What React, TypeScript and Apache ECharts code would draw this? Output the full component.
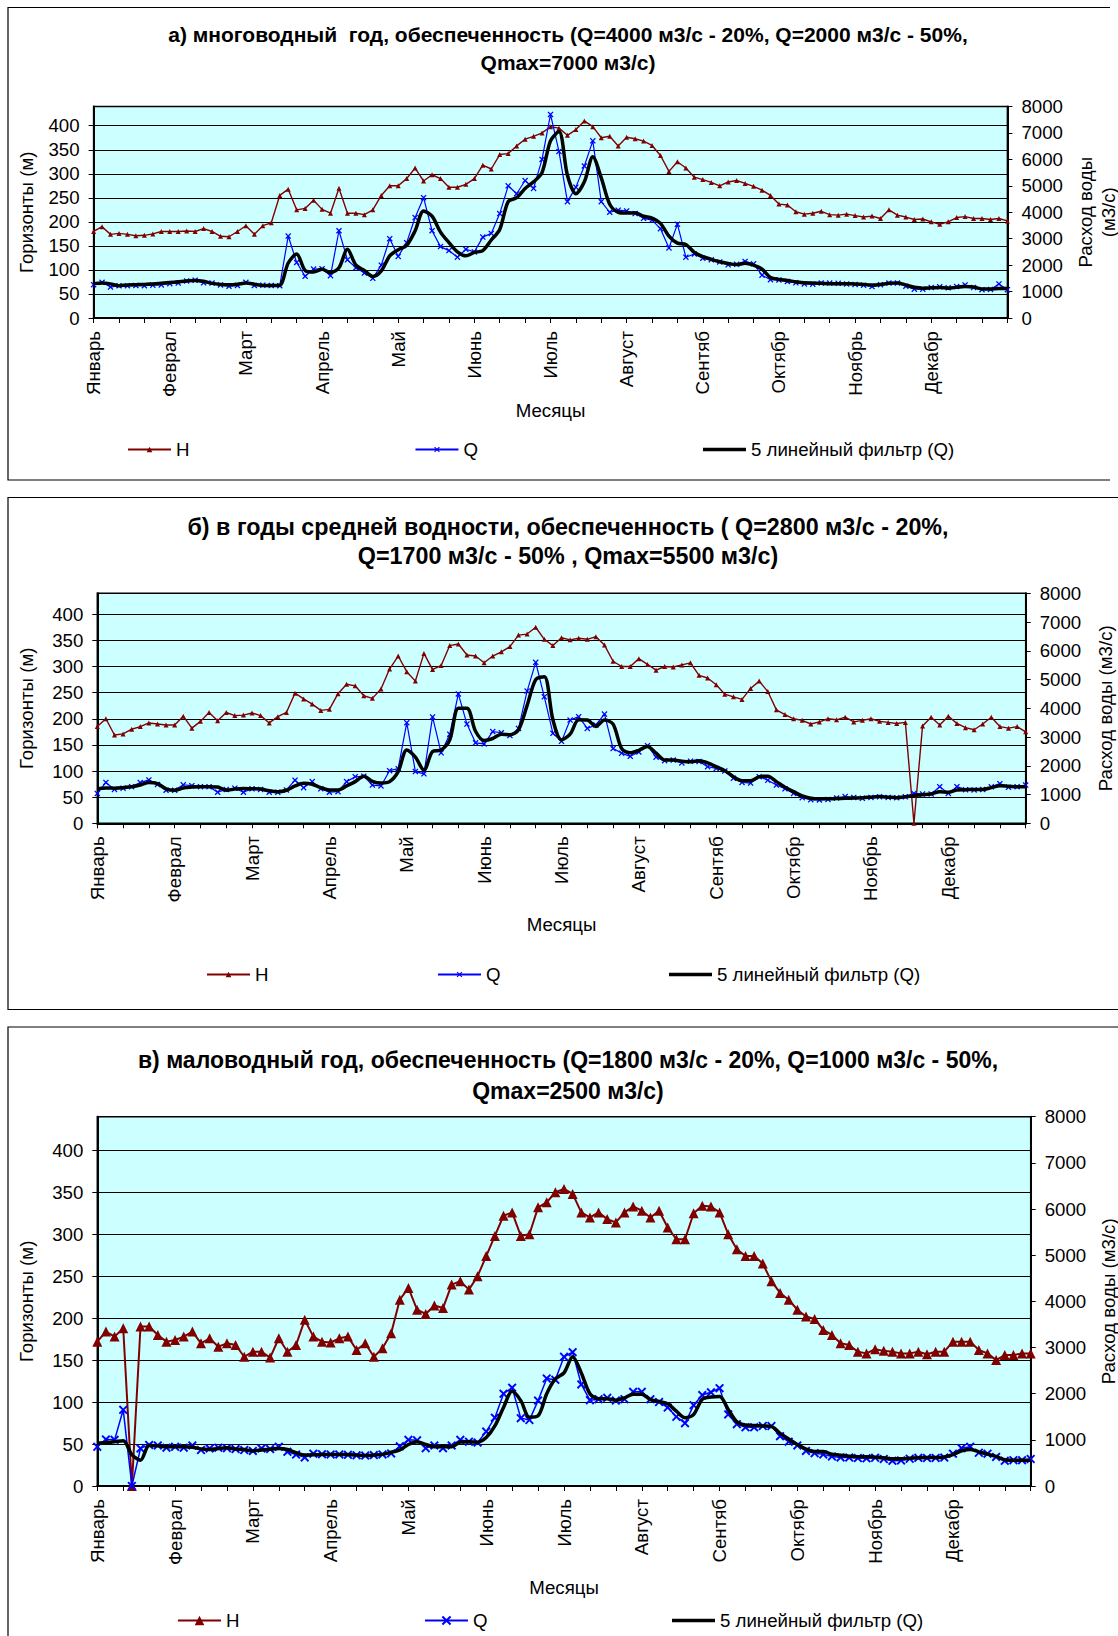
import React, { useEffect, useRef } from "react";
import * as echarts from "echarts";

// ---------- tick labels / categories ----------
const MONTHS = ["Январь", "Феврал", "Март", "Апрель", "Май", "Июнь", "Июль", "Август", "Сентяб", "Октябр", "Ноябрь", "Декабр"];
const SAMPLES_PER_MONTH = 9;
const CATEGORIES = Array.from({ length: 109 }, (_, i) => String(i));

const LEGEND_LABELS: Record<string, string> = { H: "H", Q: "Q", F: "5 линейный фильтр (Q)" };

const TITLE_A = ["а) многоводный  год, обеспеченность (Q=4000 м3/с - 20%, Q=2000 м3/с - 50%,", "Qmax=7000 м3/с)"];
const TITLE_B = ["б) в годы средней водности, обеспеченность ( Q=2800 м3/с - 20%,", "Q=1700 м3/с - 50% , Qmax=5500 м3/с)"];
const TITLE_C = ["в) маловодный год, обеспеченность (Q=1800 м3/с - 20%, Q=1000 м3/с - 50%,", "Qmax=2500 м3/с)"];

// ---------- panel a: high-water year ----------
const H_A = [
  180, 190, 174, 176, 174, 171, 172, 175, 180, 180,
  180, 181, 180, 186, 180, 170, 169, 180, 192, 174,
  192, 198, 255, 268, 225, 228, 245, 226, 218, 270,
  218, 218, 215, 225, 255, 275, 275, 290, 312, 285,
  298, 290, 272, 272, 278, 290, 318, 310, 340, 342,
  358, 372, 378, 385, 398, 395, 380, 392, 410, 398,
  375, 378, 358, 376, 373, 368, 359, 338, 305, 325,
  312, 293, 288, 282, 275, 283, 286, 280, 274, 266,
  255, 237, 235, 221, 216, 218, 222, 215, 214, 216,
  213, 210, 212, 207, 225, 214, 210, 205, 206, 200,
  195, 200, 209, 211, 207, 207, 205, 207, 202,
];
const Q_A = [
  1260, 1350, 1170, 1220, 1220, 1230, 1220, 1240, 1250, 1300,
  1320, 1400, 1430, 1330, 1320, 1250, 1200, 1230, 1350, 1230,
  1240, 1230, 1220, 3100, 2100, 1580, 1850, 1860, 1600, 3300,
  2200, 1900, 1700, 1500, 2000, 3000, 2330, 2850, 3800, 4550,
  3300, 2700, 2550, 2300, 2600, 2500, 3060, 3200, 3950, 5000,
  4700, 5200, 4900, 6000, 7700, 6300, 4400, 4950, 5750, 6700,
  4400, 4000, 4080, 4050, 3950, 3770, 3700, 3380, 2650, 3550,
  2300, 2420, 2260, 2200, 2120, 2010, 2030, 2140, 2050, 1620,
  1450, 1440, 1380, 1330, 1290, 1280, 1320, 1320, 1310, 1290,
  1270, 1240, 1190, 1260, 1320, 1320, 1200, 1090, 1090, 1150,
  1180, 1140, 1190, 1250, 1150, 1070, 1080, 1290, 1070,
];
const F_A = [
  1300, 1320, 1290, 1220, 1250, 1260, 1270, 1290, 1310, 1340,
  1370, 1400, 1420, 1390, 1310, 1270, 1260, 1280, 1320, 1280,
  1230, 1230, 1240, 2080, 2420, 1800, 1740, 1840, 1720, 1900,
  2600, 2000, 1800, 1570, 1780, 2350, 2580, 2750, 3300, 4050,
  3850, 3250, 2850, 2500, 2350, 2480, 2550, 2950, 3350, 4400,
  4550, 4900, 5150, 5500, 6700, 7050, 5400, 4700, 5150, 6100,
  5300, 4300, 4000, 3970, 3980, 3850, 3780, 3580, 3100, 2830,
  2780, 2480, 2320, 2220, 2130, 2060, 2020, 2070, 2000, 1850,
  1530, 1460, 1420, 1370, 1330, 1320, 1310, 1300, 1300, 1295,
  1290, 1270, 1250, 1270, 1310, 1320, 1250, 1160, 1130, 1140,
  1150, 1130, 1160, 1190, 1170, 1100, 1100, 1120, 1120,
];

// ---------- panel b: average year ----------
const H_B = [
  185, 200, 169, 171, 180, 185, 192, 190, 188, 188,
  205, 182, 195, 212, 196, 212, 206, 207, 211, 206,
  192, 204, 212, 249, 238, 228, 216, 218, 248, 266,
  263, 244, 239, 257, 295, 320, 290, 272, 325, 294,
  302, 340, 343, 322, 320, 307, 320, 328, 338, 360,
  362, 375, 352, 340, 355, 351, 354, 352, 357, 341,
  310, 300, 300, 315, 304, 293, 300, 299, 303, 307,
  283, 278, 265, 247, 242, 237, 258, 272, 252, 217,
  208, 200, 197, 190, 194, 200, 198, 203, 194, 197,
  200, 195, 193, 191, 193, 0, 186, 203, 188, 205,
  191, 183, 179, 190, 203, 185, 182, 185, 175,
];
const Q_B = [
  1040, 1420, 1180, 1220, 1275, 1415, 1510, 1350, 1150, 1150,
  1340, 1310, 1275, 1275, 1080, 1180, 1220, 1080, 1200, 1180,
  1080, 1080, 1160, 1500, 1240, 1450, 1200, 1080, 1100, 1450,
  1620, 1640, 1330, 1300, 1830, 1900, 3500, 1800, 1720, 3700,
  2450, 3100, 4500, 3450, 2800, 2760, 3190, 3150, 3050, 3300,
  4600, 5600, 4400, 3130, 2850, 3590, 3710, 3300, 3420, 3800,
  2600, 2440, 2330, 2480, 2700, 2300, 2180, 2200, 2100, 2160,
  2150, 1970, 1910, 1820, 1565, 1420, 1400, 1620, 1500, 1330,
  1200, 1040, 890, 820, 810, 830, 880, 930, 900, 870,
  900, 920, 900, 890, 920, 1040, 1020, 1020, 1275, 1040,
  1275, 1170, 1160, 1180, 1270, 1380, 1250, 1275, 1330,
];
const F_B = [
  1200, 1230, 1220, 1240, 1270, 1330, 1420, 1380, 1200, 1150,
  1230, 1260, 1275, 1275, 1260, 1150, 1190, 1210, 1200, 1190,
  1130, 1100, 1150, 1300, 1390, 1360, 1240, 1160, 1160, 1300,
  1450, 1640, 1460, 1400, 1450, 1800, 2550, 2300, 1850, 2500,
  2550, 2900, 4000, 4000, 3200, 2880, 2950, 3100, 3080, 3250,
  4100, 5000, 5100, 3600, 2900, 3100, 3600, 3590, 3370, 3590,
  3450, 2600, 2450, 2540, 2670, 2440, 2200, 2200, 2160, 2140,
  2180, 2100, 1970, 1830, 1620, 1480, 1480, 1620, 1640, 1450,
  1250, 1100, 950, 870, 850, 850, 860, 870, 880, 890,
  910, 930, 910, 890, 920, 960, 990, 1020, 1100, 1080,
  1160, 1170, 1180, 1180, 1240, 1310, 1290, 1270, 1275,
];

// ---------- panel c: low-water year ----------
const H_C = [
  172, 184, 178, 188, 0, 190, 190, 180, 172, 174,
  178, 184, 170, 176, 166, 170, 168, 154, 160, 160,
  153, 176, 160, 168, 198, 178, 172, 171, 176, 178,
  162, 170, 154, 164, 182, 222, 236, 210, 205, 215,
  212, 240, 244, 234, 250, 274, 298, 322, 326, 298,
  300, 332, 338, 350, 354, 348, 326, 320, 326, 318,
  314, 326, 333, 328, 320, 328, 308, 294, 294, 325,
  334, 333, 326, 300, 282, 274, 274, 265, 244, 230,
  222, 210, 202, 199, 186, 180, 170, 168, 160, 158,
  163, 161, 160, 158, 158, 160, 157, 160, 160, 172,
  172, 172, 162, 158, 150, 156, 156, 158, 158,
];
const Q_C = [
  850, 1010, 1000, 1650, 0, 815, 890, 880, 830, 850,
  830, 880, 780, 815, 830, 820, 800, 780, 760, 815,
  800, 850, 740, 680, 620, 700, 690, 685, 685, 675,
  665, 660, 670, 685, 705, 860, 1000, 990, 820, 880,
  820, 880, 1000, 960, 940, 1180, 1480, 2000, 2130, 1470,
  1430, 1850, 2330, 2300, 2800, 2900, 2200, 1860, 1880, 1910,
  1850, 1880, 2040, 2040, 1880, 1820, 1700, 1500, 1360, 1750,
  1970, 2030, 2120, 1550, 1340, 1270, 1270, 1300, 1300, 1080,
  960, 880, 760, 710, 685, 640, 620, 615, 605, 600,
  612, 585, 545, 555, 590, 610, 605, 608, 615, 700,
  820, 850, 720, 700, 630, 545, 560, 560, 585,
];
const F_C = [
  925, 940, 960, 980, 680, 560, 880, 870, 850, 850,
  850, 840, 800, 790, 810, 830, 800, 790, 760, 780,
  795, 810, 790, 720, 670, 675, 685, 685, 685, 680,
  670, 660, 670, 685, 730, 780, 900, 960, 900, 850,
  850, 850, 950, 960, 950, 1050, 1300, 1700, 2050, 1850,
  1490, 1520, 2000, 2320, 2450, 2800, 2450, 2000, 1890, 1890,
  1860, 1910, 1990, 1990, 1870, 1830, 1780, 1620, 1480, 1550,
  1880, 1930, 1940, 1660, 1390, 1320, 1310, 1300, 1290, 1140,
  1020, 900, 800, 745, 745, 690, 665, 645, 635, 635,
  625, 610, 590, 590, 600, 612, 615, 615, 630, 680,
  760, 790, 740, 690, 640, 570, 560, 560, 560,
];

// ---------- styling / layout ----------
const FONT = '"Liberation Sans", Arial, Helvetica, sans-serif';
const FS = 18.67;
const RED = "#800000";
const BLUE = "#0000FF";
const XMARK = "path://M0,1.5L1.5,0L5,3.5L8.5,0L10,1.5L6.5,5L10,8.5L8.5,10L5,6.5L1.5,10L0,8.5L3.5,5Z";
const THICK_LINE_ICON = "path://M0,0L86,0L86,7L0,7Z";

const PANELS = [
  {
    key: "a", H: H_A, Q: Q_A, F: F_A, title: TITLE_A, titleY: [34.5, 62.5], titleSize: 21,
    grid: { left: 93.6, top: 106.5, width: 913.8, height: 211.5 },
    leftGap: 67.6, rightName: "Расход воды\n(м3/с)", rightGap: 83.5, rightLH: 23, xGap: 92,
    legend: { left: 127, top: 440, gap: 225, h: 7 },
    symH: 5, symQ: 6, wH: 1.4, wQ: 1.2,
  },
  {
    key: "b", H: H_B, Q: Q_B, F: F_B, title: TITLE_B, titleY: [526.7, 556], titleSize: 23.3,
    grid: { left: 97.3, top: 593.3, width: 928.4, height: 230 },
    leftGap: 71.3, rightName: "Расход воды (м3/с)", rightGap: 79.3, rightLH: 22, xGap: 100.7,
    legend: { left: 206, top: 965, gap: 168.5, h: 7 },
    symH: 5, symQ: 6, wH: 1.4, wQ: 1.2,
  },
  {
    key: "c", H: H_C, Q: Q_C, F: F_C, title: TITLE_C, titleY: [1059.6, 1091], titleSize: 23,
    grid: { left: 97.3, top: 1116.7, width: 933.4, height: 369.3 },
    leftGap: 71.3, rightName: "Расход воды (м3/с)", rightGap: 71, rightLH: 22, xGap: 101,
    legend: { left: 177, top: 1611, gap: 184.5, h: 12 },
    symH: 10, symQ: 9, wH: 2, wQ: 1.5,
  },
];

function buildOption() {
  const grid: any[] = [];
  const xAxis: any[] = [];
  const yAxis: any[] = [];
  const series: any[] = [];
  const legend: any[] = [];
  const graphic: any[] = [];

  PANELS.forEach((p, i) => {
    grid.push({
      ...p.grid,
      show: true,
      backgroundColor: "#CCFFFF",
      borderColor: "#000",
      borderWidth: 1.5,
      containLabel: false,
      outerBoundsMode: "none",
    });
    xAxis.push({
      type: "category",
      gridIndex: i,
      data: CATEGORIES,
      boundaryGap: false,
      axisLine: { show: true, lineStyle: { color: "#000", width: 2 } },
      axisTick: { show: true, interval: 2, length: 5, lineStyle: { color: "#000", width: 1 } },
      axisLabel: {
        interval: SAMPLES_PER_MONTH - 1,
        rotate: 90,
        margin: 13,
        color: "#000",
        fontSize: FS,
        fontFamily: FONT,
        formatter: (_v: string, idx: number) => MONTHS[idx / SAMPLES_PER_MONTH] || "",
      },
      splitLine: { show: false },
      name: "Месяцы",
      nameLocation: "middle",
      nameGap: p.xGap,
      nameTextStyle: { color: "#000", fontSize: FS, fontFamily: FONT, verticalAlign: "middle" },
    });
    yAxis.push({
      type: "value",
      gridIndex: i,
      position: "left",
      min: 0,
      max: 440,
      interval: 50,
      axisLine: { show: true, lineStyle: { color: "#000", width: 2 } },
      axisTick: { show: true, length: 5, lineStyle: { color: "#000" } },
      axisLabel: {
        color: "#000", fontSize: FS, fontFamily: FONT, margin: 14, showMaxLabel: false,
        formatter: (v: number) => String(v),
      },
      splitLine: { show: true, lineStyle: { color: "#000", width: 1 } },
      name: "Горизонты (м)",
      nameLocation: "middle",
      nameRotate: 90,
      nameGap: p.leftGap,
      nameTextStyle: { color: "#000", fontSize: FS, fontFamily: FONT, verticalAlign: "middle" },
    });
    yAxis.push({
      type: "value",
      gridIndex: i,
      position: "right",
      min: 0,
      max: 8000,
      interval: 1000,
      axisLine: { show: true, lineStyle: { color: "#000", width: 2 } },
      axisTick: { show: true, length: 5, lineStyle: { color: "#000" } },
      axisLabel: { color: "#000", fontSize: FS, fontFamily: FONT, margin: 14, formatter: (v: number) => String(v) },
      splitLine: { show: false },
      name: p.rightName,
      nameLocation: "middle",
      nameRotate: 90,
      nameGap: p.rightGap,
      nameTextStyle: {
        color: "#000", fontSize: FS, fontFamily: FONT, verticalAlign: "middle",
        lineHeight: p.rightLH, align: "center",
      },
    });

    series.push({
      type: "line",
      name: `${p.key}|H`,
      xAxisIndex: i,
      yAxisIndex: i * 2,
      data: p.H,
      symbol: "triangle",
      symbolSize: p.symH,
      showAllSymbol: true,
      lineStyle: { color: RED, width: p.wH },
      itemStyle: { color: RED, borderColor: RED, borderWidth: 0 },
      z: 2,
    });
    series.push({
      type: "line",
      name: `${p.key}|Q`,
      xAxisIndex: i,
      yAxisIndex: i * 2 + 1,
      data: p.Q,
      symbol: XMARK,
      symbolSize: p.symQ,
      showAllSymbol: true,
      lineStyle: { color: BLUE, width: p.wQ },
      itemStyle: { color: BLUE, borderColor: BLUE, borderWidth: 0 },
      z: 3,
    });
    series.push({
      type: "line",
      name: `${p.key}|F`,
      xAxisIndex: i,
      yAxisIndex: i * 2 + 1,
      data: p.F,
      symbol: "none",
      smooth: 0.3,
      lineStyle: { color: "#000", width: 3.5 },
      itemStyle: { color: "#000" },
      z: 4,
    });

    legend.push({
      left: p.legend.left,
      top: p.legend.top,
      padding: 0,
      orient: "horizontal",
      itemGap: p.legend.gap,
      itemWidth: 43,
      itemHeight: p.legend.h,
      selectedMode: false,
      data: [
        { name: `${p.key}|H` },
        { name: `${p.key}|Q` },
        { name: `${p.key}|F`, icon: THICK_LINE_ICON },
      ],
      formatter: (n: string) => LEGEND_LABELS[n.split("|")[1]],
      textStyle: { color: "#000", fontSize: FS, fontFamily: FONT },
    });

    p.title.forEach((t, k) => {
      graphic.push({
        type: "text",
        x: 568,
        y: p.titleY[k],
        style: {
          text: t,
          fill: "#000",
          fontSize: p.titleSize,
          fontWeight: "bold",
          fontFamily: FONT,
          align: "center",
          verticalAlign: "middle",
        },
      });
    });
  });

  // panel frames
  graphic.push({
    type: "polyline",
    shape: { points: [[1110, 7.5], [8, 7.5], [8, 480], [1110, 480]] },
    style: { stroke: "#000", lineWidth: 1.2, fill: "none" },
  });
  graphic.push({
    type: "rect",
    shape: { x: 8, y: 497.5, width: 1200, height: 512 },
    style: { stroke: "#000", lineWidth: 1.2, fill: "none" },
  });
  graphic.push({
    type: "rect",
    shape: { x: 8, y: 1027, width: 1200, height: 700 },
    style: { stroke: "#000", lineWidth: 1.2, fill: "none" },
  });

  return {
    animation: false,
    backgroundColor: "#FFFFFF",
    textStyle: { fontFamily: FONT },
    grid,
    xAxis,
    yAxis,
    series,
    legend,
    graphic,
  };
}

export default function App() {
  const ref = useRef<HTMLDivElement>(null);
  useEffect(() => {
    if (!ref.current) return;
    const chart = echarts.init(ref.current, null, { renderer: "svg" });
    chart.setOption(buildOption() as any);
    return () => chart.dispose();
  }, []);
  return (
    <div
      ref={ref}
      style={{ position: "absolute", left: 0, top: 0, width: 1118, height: 1636, background: "#fff" }}
    />
  );
}
